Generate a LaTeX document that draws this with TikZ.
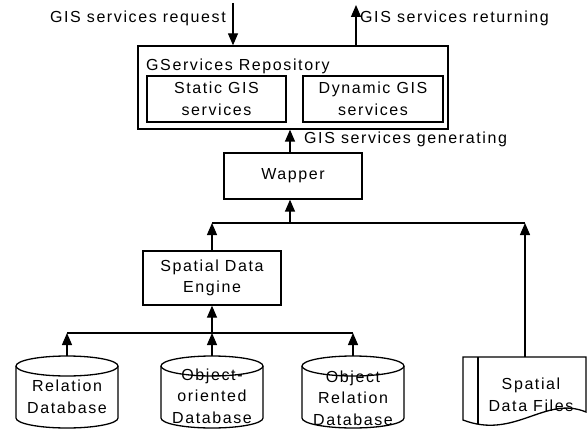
\documentclass[tikz,border=0pt]{standalone}
\usepackage{fontspec}
\setmainfont{Liberation Sans}[LetterSpace=10]
\usetikzlibrary{arrows.meta}
\begin{document}
\begin{tikzpicture}[x=1pt,y=-1pt,
  every node/.style={font=\fontsize{16}{21.5}\selectfont, inner sep=0pt},
  box/.style={draw, line width=1.3pt, align=center},
  ln/.style={line width=1.3pt},
  arr/.style={line width=1.3pt, -{Triangle[length=12pt,width=10pt]}},
  lbl/.style={align=center}
]
\path[use as bounding box] (0,0) rectangle (588,430);

% boxes
\node[box, minimum width=310pt, minimum height=83pt] (repo) at (293,87.5) {};
\node[anchor=west] (repolbl) at (146,66) {GServices Repository};
\node[box, minimum width=139pt, minimum height=46pt] (static) at (216.5,99) {Static GIS\\services};
\node[box, minimum width=140pt, minimum height=46pt] (dyn) at (373,99) {Dynamic GIS\\services};
\node[box, minimum width=138pt, minimum height=46pt] (wrap) at (293,176) {Wapper};
\node[box, minimum width=138pt, minimum height=54pt] (engine) at (212,278) {Spatial Data\\Engine};

% cylinders
\foreach \cx/\nm in {67/dbA,212/dbB,353/dbC}{
  \draw[ln] (\cx,366) ellipse [x radius=51, y radius=10];
  \draw[ln] (\cx-51,366) -- (\cx-51,418) arc[start angle=180, end angle=0, x radius=51, y radius=10] -- (\cx+51,366);
  \coordinate (\nm) at (\cx,356);
}
\node[lbl] (tA) at (67,397) {Relation\\Database};
\node[lbl] (tB) at (212,396) {Object-\\oriented\\Database};
\node[lbl] (tC) at (353,398) {Object\\Relation\\Database};

% document shape
\draw[ln] (463,357) -- (586,357) -- (586,412) .. controls (545,395) and (515,440) .. (463,420) -- cycle;
\draw[ln] (478,357) -- (478,424.2);
\coordinate (doc) at (525,357);
\node[lbl] (tD) at (531,395) {Spatial\\Data Files};

% top arrows and labels
\coordinate (reqtop) at (233,3);
\coordinate (rettop) at (356,5);
\draw[arr] (reqtop) -- (reqtop |- repo.north);
\draw[arr] (rettop |- repo.north) -- (rettop);
\node[anchor=east] (reqlbl) at (226,18) {GIS services request};
\node[anchor=west] (retlbl) at (360,18) {GIS services returning};

% generating
\coordinate (gen) at (290,153);
\draw[arr] (gen) -- (gen |- repo.south);
\node[anchor=west] (genlbl) at (304,139) {GIS services generating};

% upper junction
\coordinate (j1) at (290,223);
\coordinate (jl) at (212,223);
\coordinate (jr) at (525,223);
\draw[ln] (jl) -- (jr);
\draw[arr] (j1) -- (j1 |- wrap.south);
\draw[arr] (engine.north) -- (jl);
\draw[arr] (doc) -- (jr);

% lower junction
\coordinate (j2) at (212,333);
\coordinate (kl) at (67,333);
\coordinate (kr) at (353,333);
\draw[ln] (kl) -- (kr);
\draw[arr] (j2) -- (engine.south);
\draw[arr] (dbA) -- (kl);
\draw[arr] (dbB) -- (j2);
\draw[arr] (dbC) -- (kr);
\end{tikzpicture}
\end{document}
